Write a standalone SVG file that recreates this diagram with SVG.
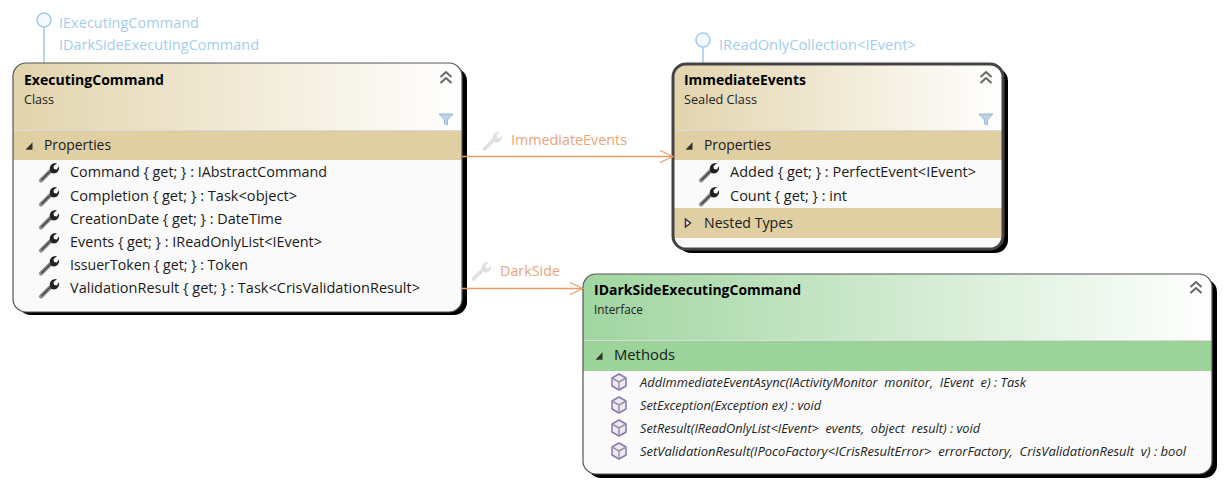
<svg xmlns="http://www.w3.org/2000/svg" width="1224" height="486" viewBox="0 0 1224 486">
<style>
text{font-family:"Open Sans","Noto Sans","Liberation Sans",sans-serif;fill:#1a1a1a;font-size:14.8px;white-space:pre}
.title{font-weight:700;fill:#000;font-size:15px}
.sub{font-size:12.4px;fill:#222}
.iface{fill:#a3cdf0;font-size:15px}
.lbl{fill:#eda477;font-size:15px}
.m{font-style:italic;font-size:12.4px;fill:#222}
.band{fill:#dfcfa2}
.gband{fill:#9bd39b}
.body{fill:#fafafa}
.lolli{fill:#f4f9fd;stroke:#a3cdf0;stroke-width:1.6}
.lstem{stroke:#a3cdf0;stroke-width:1.6;fill:none}
.conn{stroke:#ea9a68;stroke-width:1.3;fill:none}
.chev{fill:none;stroke:#666;stroke-width:2}
</style>
<defs>
<linearGradient id="tan"><stop offset="0" stop-color="#e2d4ac"/><stop offset="1" stop-color="#fff"/></linearGradient>
<linearGradient id="green"><stop offset="0" stop-color="#a0d5a0"/><stop offset="1" stop-color="#fff"/></linearGradient>
<marker id="arrow" markerUnits="userSpaceOnUse" markerWidth="16" markerHeight="16" refX="14" refY="7" orient="auto"><path d="M1 1 L14 7 L1 13" fill="none" stroke="#ea9a68" stroke-width="1.1"/></marker>
<g id="wrench"><path d="M-8 8.500 L1.500 -1" fill="none" stroke="#8a8a8a" stroke-width="4" stroke-linecap="round"/><path d="M-7.500 8 L2 -1.500" fill="none" stroke="#444" stroke-width="1.200"/><path d="M1 -2 C0 -6 3 -9.500 8 -9 L4.500 -5.800 L5 -3 L7.800 -2.500 L10 -5.800 C11 -1 7 2.800 2.500 1 Z" fill="#222"/></g>
<g id="wrenchPale" opacity=".9"><path d="M-7.500 8 L1.500 -1" fill="none" stroke="#ddd" stroke-width="3.800" stroke-linecap="round"/><path d="M1 -2 C0 -6 3 -9.500 8 -9 L4.500 -5.800 L5 -3 L7.800 -2.500 L10 -5.800 C11 -1 7 2.800 2.500 1 Z" fill="#dcdcdc"/></g>
<g id="cube" fill="#eeeaf3" stroke="#8a76ad" stroke-width="1.500" stroke-linejoin="round"><path d="M0 -8 L7 -4 L7 4 L0 8 L-7 4 L-7 -4 Z"/><path d="M-7 -4 L0 0 L7 -4 M0 0 L0 8" fill="none" stroke="#9a93a8"/></g>
<g id="collapse" class="chev"><path d="M-5.500 -1 L0 -6 L5.500 -1 M-5.500 5 L0 0 L5.500 5"/></g>
<g id="funnel"><path d="M-7 -5 L7 -5 L1.500 1 L1.500 6 L-1.500 5 L-1.500 1 Z" fill="#b9d3e8" stroke="#8fb0cc" stroke-width=".8"/></g>
<path id="open" d="M0 -3.800 L0 3.800 L-7 3.800 Z" fill="#333" transform="translate(3.500 0)"/>
<path id="closed" d="M-2.500 -4 L2.500 0 L-2.500 4 Z" fill="#fff" stroke="#333" stroke-width="1.500"/>
<clipPath id="c1"><rect x="13" y="63" width="449" height="249" rx="13"/></clipPath>
<clipPath id="c2"><rect x="673" y="63" width="330" height="186" rx="13"/></clipPath>
<clipPath id="c3"><rect x="583" y="274" width="629" height="200" rx="13"/></clipPath>
</defs>
<g id="node-executing-command">
<path class="lstem" d="M44 26 V63"/><circle class="lolli" cx="44" cy="20" r="7"/>
<text class="iface" x="59" y="28" textLength="140" lengthAdjust="spacingAndGlyphs">IExecutingCommand</text>
<text class="iface" x="59" y="50" textLength="200" lengthAdjust="spacingAndGlyphs">IDarkSideExecutingCommand</text>
<rect x="18" y="68" width="449" height="247" rx="13" fill="#000"/>
<rect x="13" y="63" width="449" height="249" rx="13" class="body"/>
<g clip-path="url(#c1)">
<rect x="13" y="63" width="449" height="67" fill="url(#tan)"/>
<rect x="13" y="130" width="449" height="1" fill="#d8d8d8"/>
<rect x="13" y="131" width="449" height="29" class="band"/>
</g>
<rect x="13" y="63" width="449" height="249" rx="13" fill="none" stroke="#555" stroke-width="1.200"/>
<text class="title" x="24" y="85" textLength="140" lengthAdjust="spacingAndGlyphs">ExecutingCommand</text>
<text class="sub" x="24" y="104" textLength="30" lengthAdjust="spacingAndGlyphs">Class</text>
<use href="#collapse" x="446" y="78"/><use href="#funnel" x="446" y="119"/>
<use href="#open" x="29" y="146"/>
<text x="44" y="150" textLength="67" lengthAdjust="spacingAndGlyphs">Properties</text>
<use href="#wrench" x="49" y="172"/><text x="70" y="177" textLength="257" lengthAdjust="spacingAndGlyphs">Command { get; } : IAbstractCommand</text>
<use href="#wrench" x="49" y="196"/><text x="70" y="201" textLength="227" lengthAdjust="spacingAndGlyphs">Completion { get; } : Task&lt;object&gt;</text>
<use href="#wrench" x="49" y="219"/><text x="70" y="224" textLength="212" lengthAdjust="spacingAndGlyphs">CreationDate { get; } : DateTime</text>
<use href="#wrench" x="49" y="242"/><text x="70" y="247" textLength="252" lengthAdjust="spacingAndGlyphs">Events { get; } : IReadOnlyList&lt;IEvent&gt;</text>
<use href="#wrench" x="49" y="265"/><text x="70" y="270" textLength="178" lengthAdjust="spacingAndGlyphs">IssuerToken { get; } : Token</text>
<use href="#wrench" x="49" y="288"/><text x="70" y="293" textLength="350" lengthAdjust="spacingAndGlyphs">ValidationResult { get; } : Task&lt;CrisValidationResult&gt;</text>
</g>
<g id="node-immediate-events">
<path class="lstem" d="M703 47 V63"/><circle class="lolli" cx="703" cy="40" r="7"/>
<text class="iface" x="719" y="50" textLength="197" lengthAdjust="spacingAndGlyphs">IReadOnlyCollection&lt;IEvent&gt;</text>
<rect x="678" y="68" width="330" height="185" rx="13" fill="#000"/>
<rect x="673" y="64" width="330" height="185" rx="13" class="body"/>
<g clip-path="url(#c2)">
<rect x="673" y="64" width="330" height="66" fill="url(#tan)"/>
<rect x="673" y="130" width="330" height="1" fill="#d8d8d8"/>
<rect x="673" y="131" width="330" height="29" class="band"/>
<rect x="673" y="208" width="330" height="30" class="band"/>
</g>
<rect x="673" y="64" width="330" height="185" rx="13" fill="none" stroke="#444" stroke-width="3"/>
<text class="title" x="684" y="85" textLength="122" lengthAdjust="spacingAndGlyphs">ImmediateEvents</text>
<text class="sub" x="684" y="104" textLength="73" lengthAdjust="spacingAndGlyphs">Sealed Class</text>
<use href="#collapse" x="986" y="78"/><use href="#funnel" x="986" y="119"/>
<use href="#open" x="689" y="146"/>
<text x="704" y="150" textLength="67" lengthAdjust="spacingAndGlyphs">Properties</text>
<use href="#wrench" x="709" y="172"/><text x="730" y="177" textLength="246" lengthAdjust="spacingAndGlyphs">Added { get; } : PerfectEvent&lt;IEvent&gt;</text>
<use href="#wrench" x="709" y="196"/><text x="730" y="201" textLength="117" lengthAdjust="spacingAndGlyphs">Count { get; } : int</text>
<use href="#closed" x="688" y="223"/>
<text x="704" y="228" textLength="89" lengthAdjust="spacingAndGlyphs">Nested Types</text>
</g>
<g id="node-idarkside">
<rect x="588" y="279" width="629" height="199" rx="13" fill="#000"/>
<rect x="583" y="274" width="629" height="200" rx="13" class="body"/>
<g clip-path="url(#c3)">
<rect x="583" y="274" width="629" height="66" fill="url(#green)"/>
<rect x="583" y="340" width="629" height="1" fill="#d8d8d8"/>
<rect x="583" y="341" width="629" height="30" class="gband"/>
</g>
<rect x="583" y="274" width="629" height="200" rx="13" fill="none" stroke="#555" stroke-width="1.200"/>
<text class="title" x="594" y="295" textLength="207" lengthAdjust="spacingAndGlyphs">IDarkSideExecutingCommand</text>
<text class="sub" x="594" y="314" textLength="49" lengthAdjust="spacingAndGlyphs">Interface</text>
<use href="#collapse" x="1196" y="288"/>
<use href="#open" x="599" y="356"/>
<text x="614" y="360" textLength="61" lengthAdjust="spacingAndGlyphs">Methods</text>
<use href="#cube" x="619" y="382"/><text class="m" x="640" y="387" textLength="386" lengthAdjust="spacingAndGlyphs">AddImmediateEventAsync(IActivityMonitor  monitor,  IEvent  e) : Task</text>
<use href="#cube" x="619" y="405"/><text class="m" x="640" y="410" textLength="181" lengthAdjust="spacingAndGlyphs">SetException(Exception ex) : void</text>
<use href="#cube" x="619" y="428"/><text class="m" x="640" y="433" textLength="340" lengthAdjust="spacingAndGlyphs">SetResult(IReadOnlyList&lt;IEvent&gt;  events,  object  result) : void</text>
<use href="#cube" x="619" y="451"/><text class="m" x="640" y="456" textLength="546" lengthAdjust="spacingAndGlyphs">SetValidationResult(IPocoFactory&lt;ICrisResultError&gt;  errorFactory,  CrisValidationResult  v) : bool</text>
</g>
<g id="connectors">
<path class="conn" d="M462 156.500 H673" marker-end="url(#arrow)"/>
<path class="conn" d="M462 288.500 H583" marker-end="url(#arrow)"/>
<use href="#wrenchPale" x="492" y="141"/>
<text class="lbl" x="511" y="145" textLength="116" lengthAdjust="spacingAndGlyphs">ImmediateEvents</text>
<use href="#wrenchPale" x="481" y="271"/>
<text class="lbl" x="500" y="276" textLength="60" lengthAdjust="spacingAndGlyphs">DarkSide</text>
</g>
</svg>
